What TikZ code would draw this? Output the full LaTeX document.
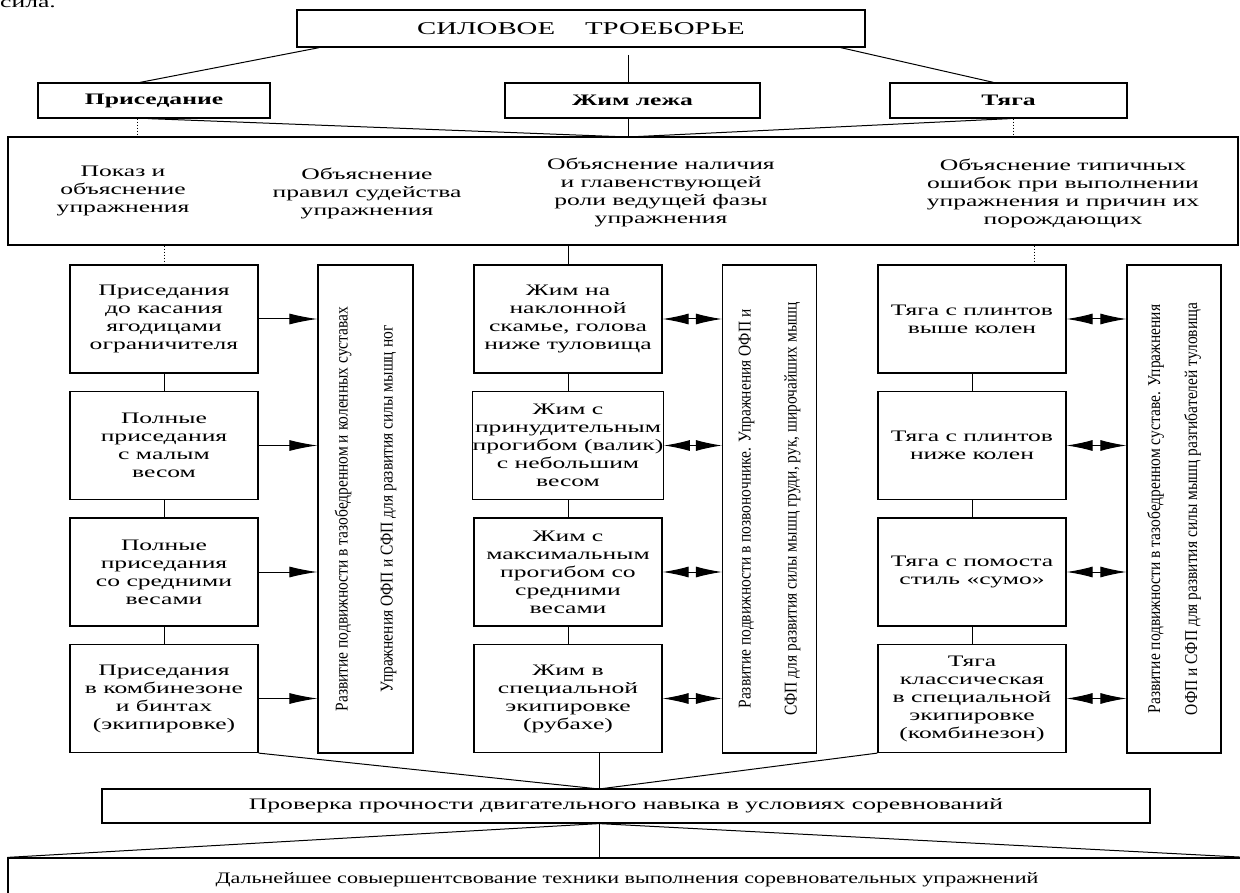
\documentclass[tikz,border=0pt]{standalone}
\usepackage{fontspec}
\setmainfont{Liberation Serif}
\newfontfamily\widefont[FakeStretch=1.6]{Liberation Serif}
\newfontfamily\narrowfont[FakeStretch=0.86]{Liberation Serif}
\newfontfamily\lowfont[FakeStretch=1.38]{Liberation Serif}
\usetikzlibrary{arrows.meta, positioning}
\tikzstyle{plBox} = [draw, rectangle, line width=1.2pt, inner sep=0pt, align=center, font=\widefont\fontsize{16}{18}\selectfont]
\tikzstyle{plHead} = [plBox, minimum height=35pt, font=\widefont\bfseries\fontsize{16}{18}\selectfont]
\tikzstyle{plStep} = [plBox, minimum width=188pt, minimum height=108pt]
\tikzstyle{plSide} = [plBox, rotate=90, minimum width=488pt, font=\narrowfont\fontsize{18}{22}\selectfont]
\tikzstyle{plText} = [align=center, inner sep=0pt, font=\widefont\fontsize{16}{18}\selectfont]
\tikzstyle{plLine} = [line width=1pt]
\tikzstyle{plDots} = [line width=1pt, dash pattern=on 1pt off 2pt]
\tikzstyle{plOne} = [plLine, -{Latex[length=28pt, width=11pt]}]
\tikzstyle{plTwo} = [plLine, {Latex[length=26pt, width=11pt]}-{Latex[length=26pt, width=11pt]}]

\begin{document}
\begin{tikzpicture}[x=1pt, y=-1pt, node distance=126.5pt]
        \useasboundingbox (0,0) rectangle (1240,893);
        % Nodes
        \node [anchor=base west, inner sep=0pt, font=\widefont\fontsize{16}{18}\selectfont] (sila) at (0,8) {сила.};
        \node [plBox, minimum width=568pt, minimum height=37pt, font=\widefont\fontsize{18}{20}\selectfont] (top) at (581,28.5) {СИЛОВОЕ\hspace{30pt}ТРОЕБОРЬЕ};

        \node [plHead, minimum width=232pt] (sq) at (154,100.5) {Приседание};
        \node [plHead, minimum width=255pt] (bp) at (632.5,100.5) {Жим лежа};
        \node [plHead, minimum width=237pt] (dl) at (1008.5,100.5) {Тяга};

        \node [plBox, minimum width=1230pt, minimum height=108pt] (expl) at (623,191) {};
        \node [plText] (ex1) at (123,191) {Показ и\\объяснение\\упражнения};
        \node [plText] (ex2) at (367,194) {Объяснение\\правил судейства\\упражнения};
        \node [plText] (ex3) at (661,193) {Объяснение наличия\\и главенствующей\\роли ведущей фазы\\упражнения};
        \node [plText] (ex4) at (1063,193) {Объяснение типичных\\ошибок при выполнении\\упражнения и причин их\\порождающих};

        \node [plStep] (sq1) at (164,319) {Приседания\\до касания\\ягодицами\\ограничителя};
        \node [plStep, below of=sq1] (sq2) {Полные\\приседания\\с малым\\весом};
        \node [plStep, below of=sq2] (sq3) {Полные\\приседания\\со средними\\весами};
        \node [plStep, below of=sq3] (sq4) {Приседания\\в комбинезоне\\и бинтах\\(экипировке)};
        \node [plSide, minimum height=95pt] (sqV) at (365.5,509) {Развитие подвижности в тазобедренном и коленных суставах\\[23pt]Упражнения ОФП и СФП для развития силы мышц ног};

        \node [plStep] (bp1) at (568,319) {Жим на\\наклонной\\скамье, голова\\ниже туловища};
        \node [plStep, below of=bp1] (bp2) {Жим с\\принудительным\\прогибом (валик)\\с небольшим\\весом};
        \node [plStep, below of=bp2] (bp3) {Жим с\\максимальным\\прогибом со\\средними\\весами};
        \node [plStep, below of=bp3] (bp4) {Жим в\\специальной\\экипировке\\(рубахе)};
        \node [plSide, minimum height=94pt] (bpV) at (769.5,509) {Развитие подвижности в позвоночнике. Упражнения ОФП и\\[24pt]СФП для развития силы мышц груди, рук, широчайших мышц};

        \node [plStep] (dl1) at (972,319) {Тяга с плинтов\\выше колен};
        \node [plStep, below of=dl1] (dl2) {Тяга с плинтов\\ниже колен};
        \node [plStep, below of=dl2] (dl3) {Тяга с помоста\\стиль «сумо»};
        \node [plStep, below of=dl3] (dl4) {Тяга\\классическая\\в специальной\\экипировке\\(комбинезон)};
        \node [plSide, minimum height=94pt] (dlV) at (1174,509) {Развитие подвижности в тазобедренном суставе. Упражнения\\[15pt]ОФП и СФП для развития силы мышц разгибателей туловища};

        \node [plBox, minimum width=1048pt, minimum height=34pt] (chk) at (626,806) {Проверка прочности двигательного навыка в условиях соревнований};
        \node [plBox, minimum width=1238pt, minimum height=44pt, font=\lowfont\fontsize{16}{18}\selectfont] (next) at (627,880) {Дальнейшее совыершентсвование техники выполнения соревновательных упражнений};

        \coordinate (stem) at (628,55);
        \coordinate (meet) at (628,137);
        \coordinate (join) at (599,789);

        % Lines
        \draw [plLine] ([xshift=23pt]top.south west) -- ([xshift=-14pt]sq.north);
        \draw [plLine] ([xshift=-25pt]top.south east) -- ([xshift=-15pt]dl.north);
        \draw [plLine] (stem) -- (stem |- bp.north);
        \draw [plLine] (bp.south -| meet) -- (meet);
        \draw [plLine] ([xshift=-6pt]sq.south) -- (meet);
        \draw [plLine] ([xshift=2pt]dl.south) -- (meet);
        \draw [plDots] ([xshift=-17pt]sq.south) -- ([xshift=-17pt]sq.south |- expl.north);
        \draw [plDots] ([xshift=5pt]dl.south) -- ([xshift=5pt]dl.south |- expl.north);

        \draw [plDots] (sq1.north |- expl.south) -- (sq1.north);
        \draw [plLine] (bp1.north |- expl.south) -- (bp1.north);
        \draw [plDots] ([xshift=62pt]dl1.north |- expl.south) -- ([xshift=62pt]dl1.north);

        \foreach \c in {sq, bp, dl} {
            \draw [plLine] (\c1) -- (\c2);
            \draw [plLine] (\c2) -- (\c3);
            \draw [plLine] (\c3) -- (\c4);
        }
        \foreach \r in {1,...,4} {
            \draw [plOne] (sq\r.east) -- (sq\r.east -| sqV.north);
            \draw [plTwo] (bp\r.east) -- (bp\r.east -| bpV.north);
            \draw [plTwo] (dl\r.east) -- (dl\r.east -| dlV.north);
        }

        \draw [plLine] (sq4.south east) -- (join);
        \draw [plLine] (bp4.south -| join) -- (join);
        \draw [plLine] (dl4.south west) -- (join);
        \draw [plLine] (chk.south -| join) -- (next.north -| join);
        \draw [plLine] (chk.south -| join) -- (next.north west);
        \draw [plLine] (chk.south -| join) -- (next.north east);
    \end{tikzpicture}
\end{document}
